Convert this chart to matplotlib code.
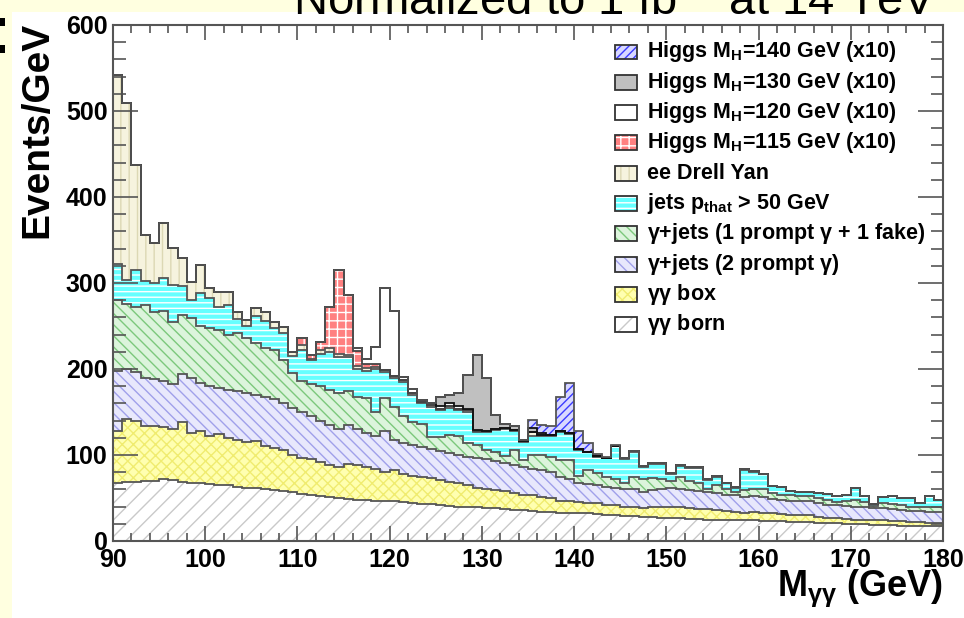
import numpy as np
import matplotlib
matplotlib.use('Agg')
import matplotlib.pyplot as plt
from matplotlib.patches import Rectangle
from matplotlib.ticker import MultipleLocator

plt.rcParams['font.family'] = ['Liberation Sans', 'DejaVu Sans']
plt.rcParams['mathtext.fontset'] = 'custom'
plt.rcParams['mathtext.rm'] = 'Liberation Sans:bold'
plt.rcParams['mathtext.it'] = 'Liberation Sans:bold'
plt.rcParams['mathtext.bf'] = 'Liberation Sans:bold'
plt.rcParams['mathtext.sf'] = 'Liberation Sans'
plt.rcParams['hatch.linewidth'] = 1.0

# 1 GeV bins from 90 to 180 GeV
edges = np.arange(90, 181)

# events/GeV per sample, bins 90..179
born = [68, 69, 69, 70, 70, 72, 71, 69, 68, 67,
        66, 65, 65, 63, 62, 62, 60, 59, 58, 57,
        55, 54, 52, 51, 50, 49, 48, 48, 47, 46,
        46, 45, 44, 43, 43, 42, 41, 40, 40, 39,
        38, 38, 37, 36, 36, 35, 34, 34, 33, 33,
        32, 32, 31, 30, 30, 29, 29, 28, 28, 27,
        27, 27, 26, 26, 25, 25, 25, 24, 24, 24,
        23, 23, 23, 22, 22, 22, 21, 21, 21, 20,
        20, 20, 19, 19, 19, 18, 18, 18, 17, 17]
box = [60, 73, 71, 64, 64, 60, 59, 69, 58, 61,
       56, 60, 55, 55, 53, 54, 50, 49, 48, 43,
       41, 41, 40, 37, 36, 40, 40, 38, 37, 34,
       36, 33, 32, 31, 30, 29, 28, 27, 25, 23,
       22, 21, 21, 20, 18, 18, 17, 16, 14, 13,
       13, 12, 13, 12, 12, 11, 11, 10, 11, 12,
       13, 12, 12, 11, 12, 11, 10, 10, 9, 10,
       10, 9, 8, 8, 8, 8, 7, 6, 6, 6,
       5, 5, 5, 5, 4, 5, 4, 4, 4, 4]
gjets_2prompt = [70, 58, 56, 56, 54, 54, 52, 56, 64, 56,
                 58, 53, 56, 57, 57, 54, 58, 57, 54, 55,
                 54, 50, 48, 47, 44, 46, 42, 40, 38, 48,
                 36, 36, 36, 35, 34, 34, 33, 33, 33, 34,
                 35, 34, 33, 32, 32, 31, 31, 30, 28, 26,
                 22, 22, 21, 21, 20, 20, 20, 19, 20, 21,
                 22, 22, 21, 21, 20, 20, 19, 19, 18, 18,
                 18, 17, 17, 17, 16, 16, 16, 15, 15, 15,
                 15, 14, 14, 14, 14, 13, 13, 13, 13, 13]
gjets_1fake = [82, 76, 76, 84, 78, 82, 73, 69, 69, 66,
               68, 67, 64, 67, 64, 60, 56, 57, 50, 40,
               36, 37, 40, 41, 42, 40, 38, 40, 28, 38,
               38, 31, 26, 27, 14, 16, 21, 22, 16, 16,
               11, 11, 8, 18, 8, 16, 18, 18, 19, 22,
               9, 17, 14, 12, 10, 8, 14, 15, 14, 12,
               8, 13, 11, 10, 3, 9, 7, 4, 8, 9,
               9, 7, 6, 6, 6, 6, 6, 6, 3, 5,
               8, 6, 3, 6, 6, 6, 5, 4, 6, 5]
jets = [42, 27, 43, 28, 34, 38, 43, 33, 21, 38,
        35, 27, 35, 16, 14, 32, 32, 26, 32, 20,
        36, 28, 38, 44, 42, 39, 32, 32, 50, 30,
        34, 40, 32, 24, 35, 31, 32, 30, 36, 15,
        21, 25, 31, 22, 21, 22, 22, 24, 33, 31,
        30, 20, 19, 21, 38, 27, 30, 14, 17, 18,
        8, 13, 15, 17, 11, 10, 6, 5, 24, 19,
        18, 8, 9, 5, 5, 5, 6, 7, 7, 7,
        14, 7, 2, 7, 9, 8, 10, 5, 12, 9]
drell_yan = [220, 206, 122, 54, 46, 64, 43, 33, 21, 33,
             11, 18, 15, 8, 7, 9, 10, 7, 7, 5,
             6, 2, 4, 4, 4, 2, 3, 3, 2, 3,
             2, 2, 2, 2, 2, 2, 2, 2, 2, 1,
             1, 1, 1, 1, 1, 5, 1, 1, 1, 1,
             1, 1, 1, 1, 1, 1, 1, 1, 1, 1,
             1, 1, 1, 1, 1, 1, 1, 1, 1, 1,
             0, 0, 0, 0, 0, 0, 0, 0, 0, 0,
             0, 0, 0, 0, 0, 0, 0, 0, 0, 0]
# signal samples, scaled x10
higgs115 = [0, 0, 0, 0, 0, 0, 0, 0, 0, 0,
            0, 0, 0, 0, 0, 0, 0, 0, 0, 0,
            8, 4, 9, 48, 97, 70, 18, 5, 4, 0,
            0, 0, 0, 0, 0, 0, 0, 0, 0, 0,
            0, 0, 0, 0, 0, 0, 0, 0, 0, 0,
            0, 0, 0, 0, 0, 0, 0, 0, 0, 0,
            0, 0, 0, 0, 0, 0, 0, 0, 0, 0,
            0, 0, 0, 0, 0, 0, 0, 0, 0, 0,
            0, 0, 0, 0, 0, 0, 0, 0, 0, 0]
higgs120 = [0, 0, 0, 0, 0, 0, 0, 0, 0, 0,
            0, 0, 0, 0, 0, 0, 0, 0, 0, 0,
            0, 0, 0, 0, 0, 0, 3, 6, 20, 95,
            75, 4, 5, 2, 2, 3, 3, 3, 2, 1,
            0, 0, 0, 0, 0, 0, 0, 0, 0, 0,
            0, 0, 0, 0, 0, 0, 0, 0, 0, 0,
            0, 0, 0, 0, 0, 0, 0, 0, 0, 0,
            0, 0, 0, 0, 0, 0, 0, 0, 0, 0,
            0, 0, 0, 0, 0, 0, 0, 0, 0, 0]
higgs130 = [0, 0, 0, 0, 0, 0, 0, 0, 0, 0,
            0, 0, 0, 0, 0, 0, 0, 0, 0, 0,
            0, 0, 0, 0, 0, 0, 0, 0, 0, 0,
            0, 0, 0, 0, 0, 11, 10, 15, 39, 87,
            62, 17, 5, 5, 2, 4, 3, 0, 0, 0,
            0, 0, 0, 0, 0, 0, 0, 0, 0, 0,
            0, 0, 0, 0, 0, 0, 0, 0, 0, 0,
            0, 0, 0, 0, 0, 0, 0, 0, 0, 0,
            0, 0, 0, 0, 0, 0, 0, 0, 0, 0]
higgs140 = [0, 0, 0, 0, 0, 0, 0, 0, 0, 0,
            0, 0, 0, 0, 0, 0, 0, 0, 0, 0,
            0, 0, 0, 0, 0, 0, 0, 0, 0, 0,
            0, 0, 0, 0, 0, 0, 0, 0, 0, 0,
            0, 0, 0, 0, 0, 10, 9, 11, 39, 58,
            21, 10, 2, 1, 1, 0, 0, 0, 0, 0,
            0, 0, 0, 0, 0, 0, 0, 0, 0, 0,
            0, 0, 0, 0, 0, 0, 0, 0, 0, 0,
            0, 0, 0, 0, 0, 0, 0, 0, 0, 0]

labels = [r'$\gamma\gamma$ born', r'$\gamma\gamma$ box',
          r'$\gamma$+jets (2 prompt $\gamma$)',
          r'$\gamma$+jets (1 prompt $\gamma$ + 1 fake)',
          r'jets p$_\mathrm{that}$ > 50 GeV', 'ee Drell Yan',
          r'Higgs M$_\mathrm{H}$=115 GeV (x10)', r'Higgs M$_\mathrm{H}$=120 GeV (x10)',
          r'Higgs M$_\mathrm{H}$=130 GeV (x10)', r'Higgs M$_\mathrm{H}$=140 GeV (x10)']
samples = [born, box, gjets_2prompt, gjets_1fake, jets, drell_yan,
           higgs115, higgs120, higgs130, higgs140]

# fill colour, hatch colour, hatch, outline colour
styles = [
    ('white', '#c9c9c9', '//', '#555555'),
    ('#ffffb0', '#f0ec70', 'xxx', '#555555'),
    ('#e8e8fc', '#a0a0ea', '\\\\\\', '#555555'),
    ('#dcf4dc', '#7cc87c', '\\\\\\', '#555555'),
    ('#66ffff', 'white', '---', '#555555'),
    ('#f6f3de', '#dcd8b4', '||', '#555555'),
    ('#ff8080', 'white', '++', '#444444'),
    ('white', 'white', None, '#111111'),
    ('#c0c0c0', '#c0c0c0', None, '#111111'),
    ('#d8d8ff', '#3a3aff', '////', '#555555'),
]

fig = plt.figure(figsize=(9.64, 6.18), dpi=100, facecolor='#ffffe0')
fig.patches.append(Rectangle((12 / 964, 0), 1, 606 / 618, transform=fig.transFigure,
                             facecolor='white', edgecolor='none', zorder=-2))
for yp in (18, 45):
    fig.patches.append(Rectangle((0, 1 - (yp + 8) / 618), 5 / 964, 8 / 618,
                                 transform=fig.transFigure, facecolor='black',
                                 edgecolor='none', zorder=-1))

ax = fig.add_axes([113 / 964, 77 / 618, 830 / 964, 516 / 618])

base = np.zeros(len(edges) - 1)
tops = []
for vals, (fc, hc, hatch, lc) in zip(samples, styles):
    top = base + np.array(vals, dtype=float)
    ax.stairs(top, edges, baseline=base.copy(), fill=True, facecolor=fc,
              edgecolor=hc, hatch=hatch, linewidth=0, zorder=1)
    tops.append((top, lc))
    base = top
for top, lc in tops:
    ax.stairs(top, edges, baseline=None, color=lc, linewidth=1.3, zorder=2)

ax.set_xlim(90, 180)
ax.set_ylim(0, 600)
ax.xaxis.set_major_locator(MultipleLocator(10))
ax.xaxis.set_minor_locator(MultipleLocator(2))
ax.yaxis.set_major_locator(MultipleLocator(100))
ax.yaxis.set_minor_locator(MultipleLocator(20))
ax.tick_params(axis='both', which='both', direction='in', top=True, right=True,
               color='#555555', width=1.2)
ax.tick_params(axis='x', which='major', length=11, pad=5)
ax.tick_params(axis='x', which='minor', length=5.5)
ax.tick_params(axis='y', which='major', length=18, pad=4)
ax.tick_params(axis='y', which='minor', length=9)
for lab in ax.get_xticklabels() + ax.get_yticklabels():
    lab.set_fontsize(18)
    lab.set_fontweight('bold')
for sp in ax.spines.values():
    sp.set_color('#555555')
    sp.set_linewidth(1.5)
    sp.set_zorder(3)

fig.text(943 / 964, 1 - 596 / 618, r'M$_{\gamma\gamma}$ (GeV)', ha='right',
         va='baseline', fontsize=26, fontweight='bold')
fig.text(37 / 964, 1 - 22 / 618, 'Events/GeV', rotation=90, ha='center', va='top',
         fontsize=28, fontweight='bold')
fig.text(614 / 964, 1 - 15 / 618, r'Normalized to 1 fb$^{\mathsf{-1}}$ at 14 TeV',
         ha='center', va='baseline', fontsize=34)

# legend, top entry first
for i, k in enumerate(range(len(samples) - 1, -1, -1)):
    fc, hc, hatch, lc = styles[k]
    yc = (541 - (52 + 30.3 * i)) / 516
    ax.add_patch(Rectangle((0.6048, yc - 0.0145), 0.0265, 0.029, transform=ax.transAxes,
                           facecolor=fc, edgecolor=hc, hatch=hatch, linewidth=0, zorder=4))
    ax.add_patch(Rectangle((0.6048, yc - 0.0145), 0.0265, 0.029, transform=ax.transAxes,
                           fill=False, edgecolor='#333333', linewidth=1.3, zorder=5))
    ax.text(0.6434, yc, labels[k], transform=ax.transAxes, va='center', ha='left',
            fontsize=15.5, fontweight='bold', zorder=5)

fig.savefig('out.png', dpi=100, facecolor=fig.get_facecolor())
